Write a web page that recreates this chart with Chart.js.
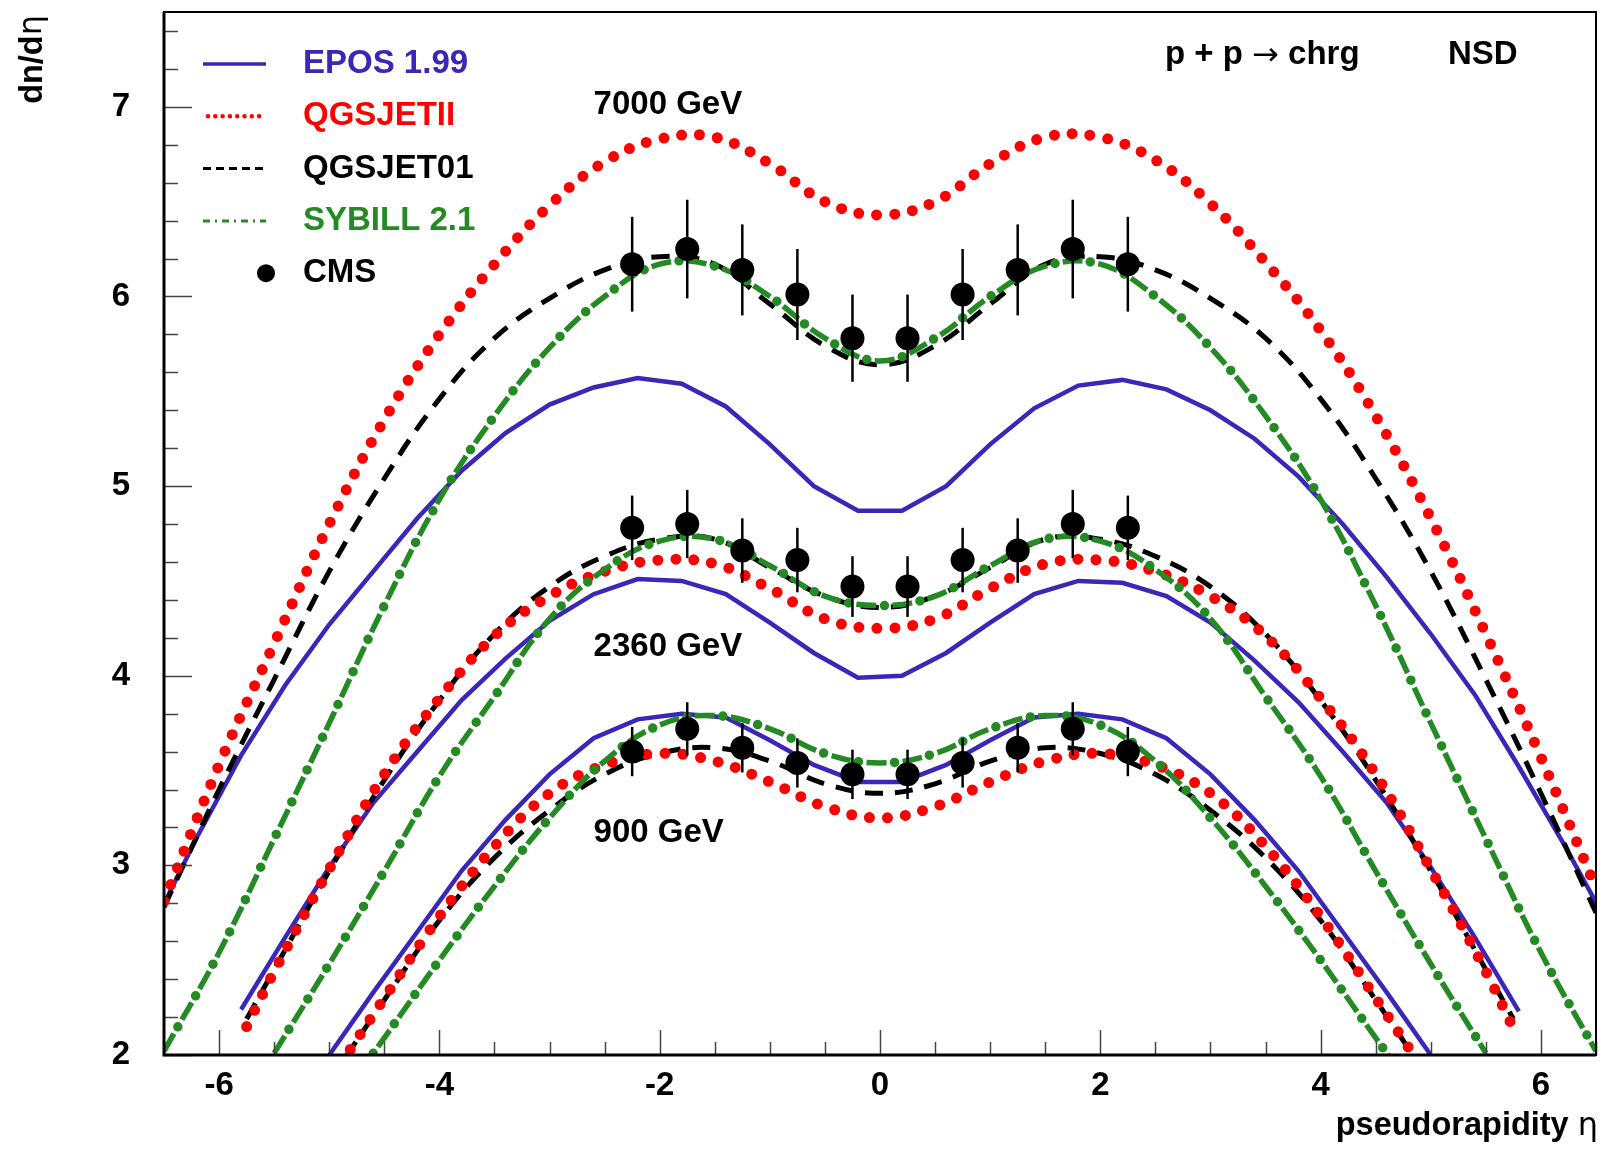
<!DOCTYPE html>
<html>
<head>
<meta charset="utf-8">
<title>dn/deta pp NSD</title>
<script src="https://cdn.jsdelivr.net/npm/chart.js@4.4.0/dist/chart.umd.min.js"></script>
<style>
  html, body { margin: 0; padding: 0; background: #fff; }
  canvas { display: block; }
</style>
</head>
<body>
<canvas id="dndeta" width="1608" height="1149"></canvas>
<script>
// ---- values ----
var xTickValues = [-6, -4, -2, 0, 2, 4, 6];
var yTickValues = [2, 3, 4, 5, 6, 7];

// CMS NSD data points
var etaCMS = [-2.25, -1.75, -1.25, -0.75, -0.25, 0.25, 0.75, 1.25, 1.75, 2.25];
var cms7000 = [6.17, 6.25, 6.14, 6.01, 5.78, 5.78, 6.01, 6.14, 6.25, 6.17];
var cms7000Err = [0.25, 0.26, 0.24, 0.24, 0.23, 0.23, 0.24, 0.24, 0.26, 0.25];
var cms2360 = [4.78, 4.80, 4.66, 4.61, 4.47, 4.47, 4.61, 4.66, 4.80, 4.78];
var cms2360Err = [0.17, 0.18, 0.17, 0.17, 0.16, 0.16, 0.17, 0.17, 0.18, 0.17];
var cms900 = [3.60, 3.72, 3.62, 3.54, 3.48, 3.48, 3.54, 3.62, 3.72, 3.60];
var cms900Err = [0.13, 0.14, 0.13, 0.13, 0.13, 0.13, 0.13, 0.13, 0.14, 0.13];

// 7000 GeV models
var eta7000 = [-6.5, -6, -5.5, -5, -4.5, -4, -3.5, -3, -2.5, -2, -1.5, -1, -0.5, 0,
               0.5, 1, 1.5, 2, 2.5, 3, 3.5, 4, 4.5, 5, 5.5, 6, 6.5];
var qgsII7000 = [2.81, 3.53, 4.17, 4.80, 5.35, 5.80, 6.17, 6.48, 6.71, 6.83, 6.84, 6.70, 6.50, 6.43,
                 6.50, 6.70, 6.84, 6.84, 6.72, 6.49, 6.18, 5.82, 5.37, 4.83, 4.22, 3.57, 2.88];
var qgs017000 = [2.78, 3.40, 3.98, 4.55, 5.04, 5.46, 5.78, 5.99, 6.14, 6.21, 6.17, 5.96, 5.74, 5.64,
                 5.74, 5.96, 6.17, 6.21, 6.14, 5.99, 5.78, 5.46, 5.04, 4.55, 3.98, 3.38, 2.75];
var sib7000 = [2.02, 2.54, 3.14, 3.75, 4.37, 4.93, 5.37, 5.73, 6.00, 6.17, 6.16, 6.00, 5.78, 5.66,
               5.78, 6.00, 6.16, 6.17, 6.00, 5.73, 5.37, 4.93, 4.37, 3.75, 3.14, 2.54, 2.02];
var etaEpos7000 = [-6.6, -6.2, -5.8, -5.4, -5.0, -4.6, -4.2, -3.8, -3.4, -3.0, -2.6, -2.2, -1.8, -1.4, -1.0, -0.6, -0.2,
                   0.2, 0.6, 1.0, 1.4, 1.8, 2.2, 2.6, 3.0, 3.4, 3.8, 4.2, 4.6, 5.0, 5.4, 5.8, 6.2, 6.6];
var epos7000 = [2.68, 3.15, 3.58, 3.95, 4.27, 4.55, 4.83, 5.08, 5.28, 5.43, 5.52, 5.57, 5.54, 5.42, 5.22, 5.00, 4.87,
                4.87, 5.00, 5.22, 5.41, 5.53, 5.56, 5.51, 5.40, 5.25, 5.05, 4.80, 4.52, 4.22, 3.90, 3.52, 3.12, 2.70];

// 2360 GeV models
var eta2360 = [-5.75, -5.5, -5, -4.5, -4, -3.5, -3, -2.5, -2, -1.5, -1, -0.5, 0,
               0.5, 1, 1.5, 2, 2.5, 3, 3.5, 4, 4.5, 5, 5.5, 5.75];
var qgsII2360 = [2.15, 2.44, 2.98, 3.48, 3.88, 4.21, 4.42, 4.55, 4.61, 4.59, 4.46, 4.30, 4.25,
                 4.30, 4.46, 4.59, 4.61, 4.55, 4.42, 4.21, 3.88, 3.48, 2.98, 2.44, 2.14];
var qgs012360 = [2.19, 2.45, 2.97, 3.45, 3.87, 4.22, 4.47, 4.63, 4.72, 4.72, 4.57, 4.42, 4.36,
                 4.42, 4.57, 4.72, 4.72, 4.63, 4.47, 4.22, 3.87, 3.45, 2.97, 2.45, 2.19];
var etaSib2360 = [-5.5, -5, -4.5, -4, -3.5, -3, -2.5, -2, -1.5, -1, -0.5, 0,
                  0.5, 1, 1.5, 2, 2.5, 3, 3.5, 4, 4.5, 5, 5.5];
var sib2360 = [2.01, 2.48, 2.97, 3.47, 3.89, 4.30, 4.56, 4.71, 4.72, 4.58, 4.42, 4.37,
               4.42, 4.58, 4.72, 4.71, 4.56, 4.30, 3.89, 3.47, 2.97, 2.48, 2.01];
var etaEpos2360 = [-5.8, -5.4, -5.0, -4.6, -4.2, -3.8, -3.4, -3.0, -2.6, -2.2, -1.8, -1.4, -1.0, -0.6, -0.2,
                   0.2, 0.6, 1.0, 1.4, 1.8, 2.2, 2.6, 3.0, 3.4, 3.8, 4.2, 4.6, 5.0, 5.4, 5.8];
var epos2360 = [2.24, 2.62, 2.99, 3.33, 3.60, 3.87, 4.09, 4.29, 4.43, 4.51, 4.50, 4.43, 4.28, 4.12, 3.99,
                4.00, 4.12, 4.28, 4.43, 4.50, 4.49, 4.42, 4.28, 4.08, 3.86, 3.60, 3.33, 2.99, 2.62, 2.23];

// 900 GeV models
var etaQgsII900 = [-4.9, -4.5, -4, -3.5, -3, -2.5, -2, -1.5, -1, -0.5, 0,
                   0.5, 1, 1.5, 2, 2.5, 3, 3.5, 4, 4.5, 4.9];
var qgsII900 = [1.95, 2.30, 2.73, 3.10, 3.38, 3.53, 3.59, 3.55, 3.44, 3.31, 3.25,
                3.31, 3.44, 3.55, 3.59, 3.53, 3.38, 3.10, 2.73, 2.30, 1.95];
var etaQgs01900 = [-4.85, -4.5, -4, -3.5, -3, -2.5, -2, -1.5, -1, -0.5, 0,
                   0.5, 1, 1.5, 2, 2.5, 3, 3.5, 4, 4.5, 4.85];
var qgs01900 = [1.99, 2.29, 2.71, 3.04, 3.29, 3.48, 3.59, 3.62, 3.55, 3.43, 3.38,
                3.43, 3.55, 3.62, 3.59, 3.48, 3.29, 3.04, 2.71, 2.29, 1.99];
var etaSib900 = [-4.75, -4.5, -4, -3.5, -3, -2.5, -2, -1.5, -1, -0.5, 0,
                 0.5, 1, 1.5, 2, 2.5, 3, 3.5, 4, 4.5, 4.75];
var sib900 = [1.89, 2.09, 2.50, 2.89, 3.25, 3.55, 3.74, 3.79, 3.72, 3.59, 3.54,
              3.59, 3.72, 3.79, 3.74, 3.55, 3.25, 2.89, 2.50, 2.09, 1.89];
var etaEpos900 = [-5.0, -4.6, -4.2, -3.8, -3.4, -3.0, -2.6, -2.2, -1.8, -1.4, -1.0, -0.6, -0.2,
                  0.2, 0.6, 1.0, 1.4, 1.8, 2.2, 2.6, 3.0, 3.4, 3.8, 4.2, 4.6, 5.0];
var epos900 = [2.00, 2.33, 2.65, 2.97, 3.24, 3.48, 3.67, 3.77, 3.80, 3.78, 3.66, 3.53, 3.44,
               3.44, 3.53, 3.66, 3.78, 3.80, 3.77, 3.67, 3.48, 3.24, 2.97, 2.65, 2.33, 2.00];

var energyLabels = ['7000 GeV', '2360 GeV', '900 GeV'];

// ---- styling ----
var FONT = "'Liberation Sans', Arial, Helvetica, sans-serif";
var BLUE = '#3a26b8';
var RED = '#ff0000';
var GREEN = '#248a24';

function pts(xs, ys) {
    return xs.map(function (x, i) { return { x: x, y: ys[i] }; });
}

function eposSet(xs, ys) {
    return { label: 'EPOS 1.99', data: pts(xs, ys), borderColor: BLUE, borderWidth: 4.5,
             tension: 0, pointRadius: 0, order: 6 };
}
function qgsIISet(xs, ys) {
    return { label: 'QGSJETII', data: pts(xs, ys), borderColor: RED, borderWidth: 11,
             borderDash: [0, 18], borderCapStyle: 'round', tension: 0.4, pointRadius: 0, order: 4 };
}
function qgs01Set(xs, ys) {
    return { label: 'QGSJET01', data: pts(xs, ys), borderColor: '#000', borderWidth: 5,
             borderDash: [18, 12], tension: 0.4, pointRadius: 0, order: 5 };
}
// sibyll is a dash + dot pattern: two strokes along the same path
function sibSets(xs, ys) {
    return [
        { label: 'SYBILL 2.1', data: pts(xs, ys), borderColor: GREEN, borderWidth: 5.5,
          borderDash: [20, 16], tension: 0.4, pointRadius: 0, order: 3 },
        { label: 'SYBILL 2.1 dots', data: pts(xs, ys), borderColor: GREEN, borderWidth: 9.5,
          borderDash: [0, 36], borderDashOffset: 8, borderCapStyle: 'round', tension: 0.4, pointRadius: 0, order: 2 }
    ];
}
function cmsSet(ys, errs) {
    return { label: 'CMS', data: pts(etaCMS, ys), errors: errs, showLine: false,
             pointRadius: 12, pointBackgroundColor: '#000', pointBorderWidth: 0, order: 0 };
}

var datasets = [].concat(
    [cmsSet(cms7000, cms7000Err), cmsSet(cms2360, cms2360Err), cmsSet(cms900, cms900Err)],
    sibSets(eta7000, sib7000), sibSets(etaSib2360, sib2360), sibSets(etaSib900, sib900),
    [qgsIISet(eta7000, qgsII7000), qgsIISet(eta2360, qgsII2360), qgsIISet(etaQgsII900, qgsII900)],
    [qgs01Set(eta7000, qgs017000), qgs01Set(eta2360, qgs012360), qgs01Set(etaQgs01900, qgs01900)],
    [eposSet(etaEpos7000, epos7000), eposSet(etaEpos2360, epos2360), eposSet(etaEpos900, epos900)]
);

// frame, inner ticks, error bars, legend and labels in ROOT style
var rootStyle = {
    id: 'rootStyle',
    beforeDatasetDraw: function (chart, args) {
        var ds = chart.data.datasets[args.index];
        if (!ds.errors) return;
        var ctx = chart.ctx, xs = chart.scales.x, ys = chart.scales.y;
        ctx.save();
        ctx.strokeStyle = '#000';
        ctx.lineWidth = 2.5;
        ds.data.forEach(function (p, i) {
            var px = xs.getPixelForValue(p.x);
            ctx.beginPath();
            ctx.moveTo(px, ys.getPixelForValue(p.y - ds.errors[i]));
            ctx.lineTo(px, ys.getPixelForValue(p.y + ds.errors[i]));
            ctx.stroke();
        });
        ctx.restore();
    },
    afterDatasetsDraw: function (chart) {
        var ctx = chart.ctx, a = chart.chartArea, xs = chart.scales.x, ys = chart.scales.y;
        var k, v, p;
        ctx.save();
        // ticks
        ctx.strokeStyle = '#444';
        ctx.lineWidth = 1.5;
        ctx.beginPath();
        for (k = 0; k <= 27; k++) {
            v = 2 + k * 0.2;
            p = Math.round(ys.getPixelForValue(v)) + 0.5;
            var major = Math.abs(v - Math.round(v)) < 1e-6;
            ctx.moveTo(a.left, p);
            ctx.lineTo(a.left + (major ? 28 : 14), p);
        }
        for (k = 0; k <= 26; k++) {
            v = -6.5 + k * 0.5;
            p = Math.round(xs.getPixelForValue(v)) + 0.5;
            var majorX = Math.abs(v / 2 - Math.round(v / 2)) < 1e-6;
            ctx.moveTo(p, a.bottom);
            ctx.lineTo(p, a.bottom - (majorX ? 25 : 13));
        }
        ctx.stroke();
        // frame
        ctx.strokeStyle = '#000';
        ctx.lineWidth = 2;
        ctx.strokeRect(a.left, a.top, a.right - a.left, a.bottom - a.top);
        ctx.lineWidth = 3;
        ctx.beginPath();
        ctx.moveTo(a.left, a.top);
        ctx.lineTo(a.left, a.bottom);
        ctx.lineTo(a.right, a.bottom);
        ctx.stroke();
        ctx.restore();
    },
    afterDraw: function (chart) {
        var ctx = chart.ctx, xs = chart.scales.x, ys = chart.scales.y;
        ctx.save();
        ctx.textBaseline = 'middle';
        ctx.font = 'bold 33px ' + FONT;

        // energy labels
        ctx.fillStyle = '#000';
        ctx.textAlign = 'left';
        var labelY = [7.01, 4.15, 3.17];
        energyLabels.forEach(function (t, i) {
            ctx.fillText(t, xs.getPixelForValue(-2.6), ys.getPixelForValue(labelY[i]));
        });

        // reaction and selection
        var x0 = 1165;
        ctx.fillText('p + p ', x0, 55);
        x0 += ctx.measureText('p + p ').width;
        ctx.font = "32px 'DejaVu Sans', sans-serif";
        ctx.fillText('\u2192', x0, 57);
        x0 += ctx.measureText('\u2192').width;
        ctx.font = 'bold 33px ' + FONT;
        ctx.fillText(' chrg', x0, 55);
        ctx.fillText('NSD', 1448, 55);

        // axis titles
        ctx.textAlign = 'right';
        ctx.textBaseline = 'alphabetic';
        var eta = '\u03b7';
        ctx.font = "32px 'DejaVu Sans', sans-serif";
        var wEta = ctx.measureText(eta).width;
        ctx.fillText(eta, 1598, 1135);
        ctx.font = 'bold 32.5px ' + FONT;
        ctx.fillText('pseudorapidity ', 1598 - wEta, 1135);

        ctx.save();
        ctx.translate(33, 15);
        ctx.rotate(-Math.PI / 2);
        ctx.textBaseline = 'middle';
        ctx.textAlign = 'right';
        ctx.font = "32px 'DejaVu Sans', sans-serif";
        var wEta2 = ctx.measureText(eta).width;
        ctx.fillText(eta, 0, 0);
        ctx.font = 'bold 32.5px ' + FONT;
        ctx.fillText('dn/d', -wEta2, 0);
        ctx.restore();

        // legend
        var rows = [
            { text: 'EPOS 1.99', color: BLUE, kind: 'epos' },
            { text: 'QGSJETII', color: RED, kind: 'qgsII' },
            { text: 'QGSJET01', color: '#000', kind: 'qgs01' },
            { text: 'SYBILL 2.1', color: GREEN, kind: 'sib' },
            { text: 'CMS', color: '#000', kind: 'cms' }
        ];
        ctx.textAlign = 'left';
        ctx.textBaseline = 'middle';
        ctx.font = 'bold 33px ' + FONT;
        rows.forEach(function (r, i) {
            var y = 64 + i * 52.3;
            ctx.save();
            ctx.strokeStyle = r.color;
            ctx.fillStyle = r.color;
            ctx.beginPath();
            if (r.kind === 'cms') {
                ctx.arc(266, y, 9, 0, Math.PI * 2);
                ctx.fill();
            } else {
                if (r.kind === 'epos') { ctx.lineWidth = 3.5; }
                if (r.kind === 'qgsII') { ctx.lineWidth = 4.5; ctx.lineCap = 'round'; ctx.setLineDash([0, 7.3]); }
                if (r.kind === 'qgs01') { ctx.lineWidth = 3; ctx.setLineDash([8, 5]); }
                if (r.kind === 'sib') { ctx.lineWidth = 3; ctx.setLineDash([7, 5, 2, 5]); }
                ctx.moveTo(r.kind === 'qgsII' ? 208 : 203, y);
                ctx.lineTo(266, y);
                ctx.stroke();
            }
            ctx.restore();
            ctx.fillStyle = r.color;
            ctx.fillText(r.text, 303, y);
        });
        ctx.restore();
    }
};

var tickFont = { family: FONT, size: 33, weight: 'bold' };

new Chart(document.getElementById('dndeta').getContext('2d'), {
    type: 'line',
    data: { datasets: datasets },
    options: {
        responsive: false,
        animation: false,
        devicePixelRatio: 1,
        layout: { padding: { top: 12, right: 3, left: 0, bottom: 0 } },
        plugins: { legend: { display: false }, tooltip: { enabled: false } },
        scales: {
            x: {
                type: 'linear', min: -6.5, max: 6.5,
                grid: { display: false, drawTicks: false },
                border: { display: false },
                afterBuildTicks: function (s) { s.ticks = xTickValues.map(function (v) { return { value: v }; }); },
                afterFit: function (s) { s.height = 94; s.paddingLeft = 0; s.paddingRight = 0; },
                ticks: { font: tickFont, color: '#000', padding: 11, maxRotation: 0, autoSkip: false }
            },
            y: {
                type: 'linear', min: 2, max: 7.5,
                grid: { display: false, drawTicks: false },
                border: { display: false },
                afterBuildTicks: function (s) { s.ticks = yTickValues.map(function (v) { return { value: v }; }); },
                afterFit: function (s) { s.width = 164; s.paddingTop = 0; s.paddingBottom = 0; },
                ticks: { font: tickFont, color: '#000', padding: 34, autoSkip: false }
            }
        }
    },
    plugins: [rootStyle]
});
</script>
</body>
</html>
